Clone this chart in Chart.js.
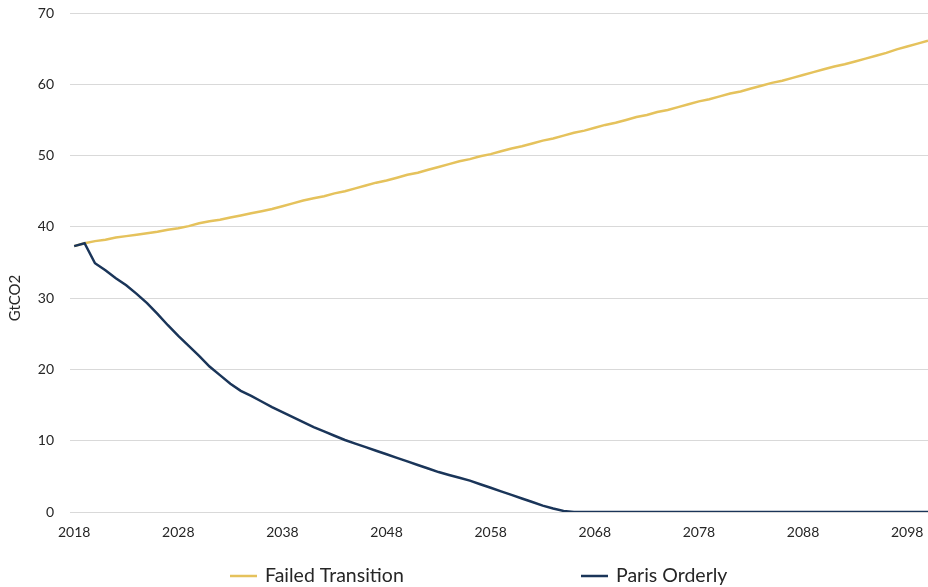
<!DOCTYPE html>
<html>
<head>
<meta charset="utf-8">
<script src="https://cdn.jsdelivr.net/npm/chart.js@4.4.1/dist/chart.umd.min.js"></script>
<style>
  html, body { margin: 0; padding: 0; background: #ffffff; }
  #wrap { width: 928px; height: 587px; position: relative; }
</style>
</head>
<body>
<div id="wrap"><canvas id="c"></canvas></div>
<script>
// Annual CO2 emissions, GtCO2, 2018-2100
const years = [];
for (let y = 2018; y <= 2100; y++) years.push(y);

const failedTransition = [
  37.3, 37.7, 38.0, 38.2, 38.5, 38.7, 38.9, 39.1, 39.3, 39.6,
  39.8, 40.1, 40.5, 40.8, 41.0, 41.3, 41.6, 41.9, 42.2, 42.5,
  42.9, 43.3, 43.7, 44.0, 44.3, 44.7, 45.0, 45.4, 45.8, 46.2,
  46.5, 46.9, 47.3, 47.6, 48.0, 48.4, 48.8, 49.2, 49.5, 49.9,
  50.2, 50.6, 51.0, 51.3, 51.7, 52.1, 52.4, 52.8, 53.2, 53.5,
  53.9, 54.3, 54.6, 55.0, 55.4, 55.7, 56.1, 56.4, 56.8, 57.2,
  57.6, 57.9, 58.3, 58.7, 59.0, 59.4, 59.8, 60.2, 60.5, 60.9,
  61.3, 61.7, 62.1, 62.5, 62.8, 63.2, 63.6, 64.0, 64.4, 64.9,
  65.3, 65.7, 66.1
];

const parisOrderly = [
  37.3, 37.7, 34.9, 33.9, 32.8, 31.8, 30.6, 29.3, 27.8, 26.2,
  24.7, 23.3, 21.9, 20.4, 19.2, 18.0, 17.0, 16.3, 15.5, 14.7,
  14.0, 13.3, 12.6, 11.9, 11.3, 10.7, 10.1, 9.6, 9.1, 8.6,
  8.1, 7.6, 7.1, 6.6, 6.1, 5.6, 5.2, 4.8, 4.4, 3.9,
  3.4, 2.9, 2.4, 1.9, 1.4, 0.9, 0.5, 0.15, 0, 0,
  0, 0, 0, 0, 0, 0, 0, 0, 0, 0,
  0, 0, 0, 0, 0, 0, 0, 0, 0, 0,
  0, 0, 0, 0, 0, 0, 0, 0, 0, 0,
  0, 0, 0
];

const xTickLabels = [2018, 2028, 2038, 2048, 2058, 2068, 2078, 2088, 2098];
const yTickLabels = [0, 10, 20, 30, 40, 50, 60, 70];

const seriesNames = ['Failed Transition', 'Paris Orderly'];
const yAxisTitle = 'GtCO2';

const GOLD = '#E5C25C';
const NAVY = '#1A3559';
const TEXT = '#262626';
const FONT = 'Lato, "Open Sans", sans-serif';

const toPoints = vals => vals.map((v, i) => ({ x: years[i], y: v }));

// Rotated y-axis title, centred on the lower part of the plot
const axisTitlePlugin = {
  id: 'axisTitle',
  afterDraw(chart) {
    const ctx = chart.ctx;
    ctx.save();
    ctx.font = '15px ' + FONT;
    ctx.fillStyle = TEXT;
    ctx.textAlign = 'center';
    ctx.textBaseline = 'middle';
    ctx.translate(15, 298);
    ctx.rotate(-Math.PI / 2);
    ctx.fillText(yAxisTitle, 0, 0);
    ctx.restore();
  }
};

// Single-row legend below the axis with wide spacing between entries
const legendRowPlugin = {
  id: 'legendRow',
  afterDraw(chart) {
    const ctx = chart.ctx;
    const y = 576;
    const starts = [230, 581];
    ctx.save();
    ctx.font = '19.5px ' + FONT;
    ctx.textBaseline = 'middle';
    ctx.textAlign = 'left';
    chart.data.datasets.forEach((ds, i) => {
      const x0 = starts[i];
      ctx.strokeStyle = ds.borderColor;
      ctx.lineWidth = 2.5;
      ctx.beginPath();
      ctx.moveTo(x0, y);
      ctx.lineTo(x0 + 27, y);
      ctx.stroke();
      ctx.fillStyle = TEXT;
      ctx.fillText(ds.label, x0 + 35, y);
    });
    ctx.restore();
  }
};

new Chart(document.getElementById('c'), {
  type: 'line',
  data: {
    datasets: [
      {
        label: seriesNames[0],
        data: toPoints(failedTransition),
        borderColor: GOLD,
        backgroundColor: GOLD,
        borderWidth: 2.5,
        pointRadius: 0,
        tension: 0,
        order: 2
      },
      {
        label: seriesNames[1],
        data: toPoints(parisOrderly),
        borderColor: NAVY,
        backgroundColor: NAVY,
        borderWidth: 2.5,
        pointRadius: 0,
        tension: 0,
        order: 1
      }
    ]
  },
  options: {
    responsive: true,
    maintainAspectRatio: false,
    animation: false,
    layout: { padding: { top: 13, right: 0, bottom: 35, left: 0 } },
    plugins: {
      legend: { display: false },
      tooltip: { enabled: false }
    },
    scales: {
      x: {
        type: 'linear',
        min: 2017.6,
        max: 2100,
        grid: { display: false, drawTicks: false },
        border: { display: false },
        afterBuildTicks: s => { s.ticks = xTickLabels.map(v => ({ value: v })); },
        afterFit: s => { s.height = 40; s.paddingLeft = 0; s.paddingRight = 0; },
        ticks: {
          autoSkip: false,
          maxRotation: 0,
          padding: 12,
          color: TEXT,
          font: { family: FONT, size: 14 },
          callback: v => String(v)
        }
      },
      y: {
        min: 0,
        max: 70,
        afterBuildTicks: s => { s.ticks = yTickLabels.map(v => ({ value: v })); },
        afterFit: s => { s.width = 70; s.paddingTop = 0; s.paddingBottom = 0; },
        grid: { color: '#D9D9D9', lineWidth: 1, drawTicks: false },
        border: { display: false },
        ticks: {
          padding: 16,
          color: TEXT,
          font: { family: FONT, size: 14 },
          callback: v => String(v)
        }
      }
    }
  },
  plugins: [axisTitlePlugin, legendRowPlugin]
});
</script>
</body>
</html>
